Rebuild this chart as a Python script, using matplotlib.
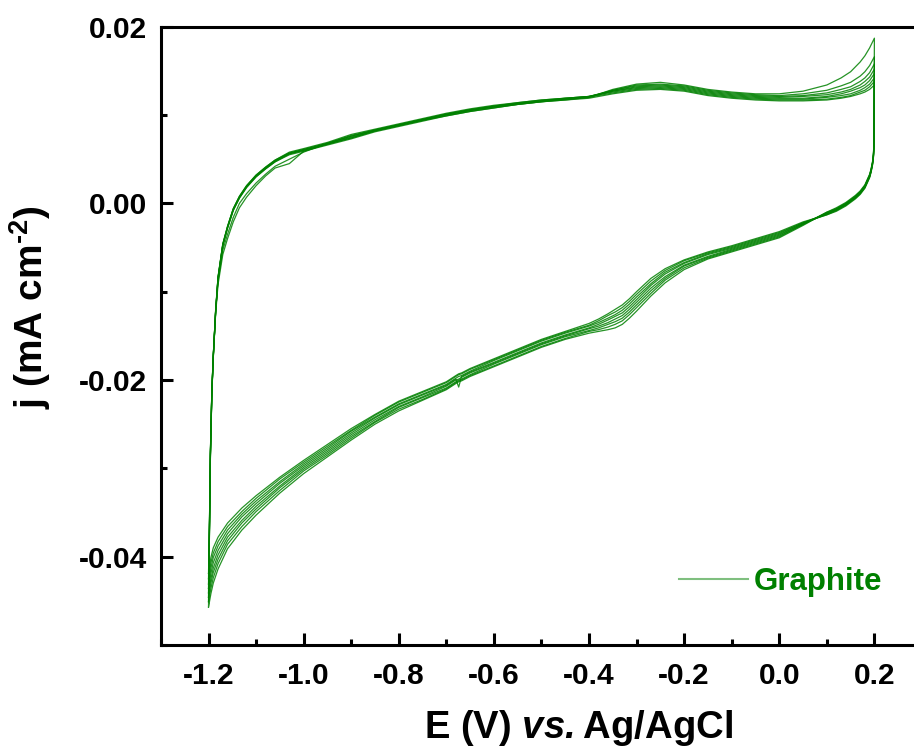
import numpy as np
import matplotlib
matplotlib.use('Agg')
import matplotlib.pyplot as plt
from matplotlib.lines import Line2D
from matplotlib.ticker import MultipleLocator, FormatStrFormatter

# potential grid of the anodic sweep (V vs. Ag/AgCl)
anodic_E = [-1.2, -1.198, -1.196, -1.193, -1.19, -1.185, -1.18, -1.17, -1.16, -1.148,
            -1.135, -1.12, -1.1, -1.08, -1.06, -1.03, -1.0, -0.95, -0.9, -0.85,
            -0.8, -0.75, -0.7, -0.65, -0.6, -0.55, -0.5, -0.45, -0.4, -0.35,
            -0.3, -0.25, -0.2, -0.15, -0.1, -0.05, 0.0, 0.05, 0.1, 0.13,
            0.15, 0.17, 0.18, 0.19, 0.2]

# current density (mA cm-2), one row per potential, one column per cycle
anodic_j = [
    [-0.0419, -0.0425, -0.0431, -0.0436, -0.0441, -0.0446, -0.0451, -0.0457],
    [-0.0360, -0.0362, -0.0364, -0.0366, -0.0368, -0.0370, -0.0372, -0.0374],
    [-0.0280, -0.0281, -0.0282, -0.0283, -0.0284, -0.0285, -0.0286, -0.0287],
    [-0.0212, -0.0213, -0.0213, -0.0214, -0.0214, -0.0215, -0.0215, -0.0216],
    [-0.0172, -0.0172, -0.0173, -0.0173, -0.0174, -0.0174, -0.0175, -0.0175],
    [-0.0125, -0.0122, -0.0120, -0.0121, -0.0122, -0.0122, -0.0123, -0.0123],
    [-0.0092, -0.0088, -0.0083, -0.0084, -0.0084, -0.0085, -0.0085, -0.0086],
    [-0.0058, -0.0053, -0.0046, -0.0046, -0.0047, -0.0047, -0.0048, -0.0048],
    [-0.0040, -0.0035, -0.0026, -0.0026, -0.0027, -0.0027, -0.0028, -0.0028],
    [-0.0021, -0.0016, -0.0006, -0.0006, -0.0007, -0.0007, -0.0008, -0.0008],
    [-0.0005, 0.0000, 0.0008, 0.0008, 0.0007, 0.0007, 0.0006, 0.0006],
    [0.0007, 0.0011, 0.0020, 0.0020, 0.0019, 0.0019, 0.0018, 0.0018],
    [0.0020, 0.0023, 0.0032, 0.0032, 0.0031, 0.0031, 0.0030, 0.0030],
    [0.0031, 0.0033, 0.0041, 0.0041, 0.0040, 0.0040, 0.0039, 0.0039],
    [0.0040, 0.0042, 0.0049, 0.0049, 0.0048, 0.0048, 0.0047, 0.0047],
    [0.0045, 0.0050, 0.0058, 0.0057, 0.0057, 0.0056, 0.0056, 0.0055],
    [0.0059, 0.0058, 0.0062, 0.0061, 0.0061, 0.0060, 0.0060, 0.0059],
    [0.0067, 0.0068, 0.0069, 0.0068, 0.0068, 0.0067, 0.0067, 0.0066],
    [0.0074, 0.0076, 0.0078, 0.0077, 0.0076, 0.0075, 0.0074, 0.0073],
    [0.0082, 0.0083, 0.0084, 0.0083, 0.0083, 0.0082, 0.0082, 0.0081],
    [0.0088, 0.0089, 0.0090, 0.0089, 0.0089, 0.0088, 0.0088, 0.0087],
    [0.0094, 0.0095, 0.0096, 0.0095, 0.0095, 0.0094, 0.0094, 0.0093],
    [0.0100, 0.0101, 0.0102, 0.0101, 0.0101, 0.0100, 0.0099, 0.0099],
    [0.0105, 0.0106, 0.0107, 0.0106, 0.0106, 0.0105, 0.0104, 0.0104],
    [0.0109, 0.0110, 0.0111, 0.0110, 0.0110, 0.0109, 0.0108, 0.0108],
    [0.0112, 0.0113, 0.0114, 0.0114, 0.0113, 0.0113, 0.0112, 0.0112],
    [0.0115, 0.0116, 0.0117, 0.0117, 0.0116, 0.0116, 0.0115, 0.0115],
    [0.0117, 0.0118, 0.0119, 0.0119, 0.0119, 0.0118, 0.0118, 0.0117],
    [0.0119, 0.0120, 0.0121, 0.0121, 0.0121, 0.0121, 0.0120, 0.0120],
    [0.0124, 0.0125, 0.0126, 0.0127, 0.0127, 0.0128, 0.0128, 0.0129],
    [0.0128, 0.0129, 0.0130, 0.0131, 0.0132, 0.0133, 0.0134, 0.0135],
    [0.0129, 0.0130, 0.0131, 0.0132, 0.0133, 0.0134, 0.0135, 0.0137],
    [0.0127, 0.0128, 0.0129, 0.0130, 0.0131, 0.0132, 0.0133, 0.0134],
    [0.0122, 0.0123, 0.0124, 0.0125, 0.0126, 0.0127, 0.0128, 0.0129],
    [0.0119, 0.0120, 0.0121, 0.0122, 0.0123, 0.0124, 0.0125, 0.0126],
    [0.0117, 0.0118, 0.0119, 0.0120, 0.0121, 0.0122, 0.0123, 0.0124],
    [0.0116, 0.0117, 0.0118, 0.0119, 0.0120, 0.0121, 0.0122, 0.0124],
    [0.0116, 0.0117, 0.0118, 0.0119, 0.0121, 0.0122, 0.0124, 0.0127],
    [0.0117, 0.0118, 0.0120, 0.0121, 0.0123, 0.0125, 0.0128, 0.0134],
    [0.0119, 0.0120, 0.0122, 0.0124, 0.0126, 0.0129, 0.0133, 0.0142],
    [0.0121, 0.0122, 0.0124, 0.0127, 0.0129, 0.0132, 0.0137, 0.0149],
    [0.0124, 0.0126, 0.0128, 0.0131, 0.0134, 0.0138, 0.0144, 0.0160],
    [0.0126, 0.0128, 0.0131, 0.0134, 0.0138, 0.0142, 0.0149, 0.0167],
    [0.0129, 0.0132, 0.0135, 0.0139, 0.0143, 0.0148, 0.0156, 0.0176],
    [0.0134, 0.0138, 0.0142, 0.0147, 0.0152, 0.0158, 0.0166, 0.0187],
]

# potential grid of the cathodic sweep back to the lower vertex
cathodic_E = [0.2, 0.1995, 0.199, 0.198, 0.196, 0.193, 0.19, 0.185, 0.18, 0.17,
              0.16, 0.15, 0.14, 0.12, 0.1, 0.05, 0.0, -0.05, -0.1, -0.15,
              -0.2, -0.24, -0.27, -0.3, -0.315, -0.33, -0.345, -0.36, -0.38, -0.4,
              -0.45, -0.5, -0.55, -0.6, -0.65, -0.668, -0.674, -0.68, -0.7, -0.75,
              -0.8, -0.85, -0.9, -0.95, -1.0, -1.05, -1.1, -1.13, -1.16, -1.18,
              -1.19, -1.195, -1.2]

cathodic_j = [
    [0.0134, 0.0138, 0.0142, 0.0147, 0.0152, 0.0158, 0.0166, 0.0187],
    [0.0090, 0.0092, 0.0094, 0.0096, 0.0098, 0.0100, 0.0103, 0.0108],
    [0.0062, 0.0063, 0.0064, 0.0065, 0.0066, 0.0067, 0.0068, 0.0070],
    [0.0052, 0.0053, 0.0053, 0.0054, 0.0054, 0.0055, 0.0055, 0.0056],
    [0.0043, 0.0044, 0.0044, 0.0045, 0.0045, 0.0046, 0.0046, 0.0047],
    [0.0035, 0.0036, 0.0036, 0.0037, 0.0037, 0.0038, 0.0038, 0.0039],
    [0.0029, 0.0030, 0.0030, 0.0031, 0.0031, 0.0032, 0.0032, 0.0033],
    [0.0023, 0.0024, 0.0024, 0.0025, 0.0025, 0.0026, 0.0026, 0.0027],
    [0.0017, 0.0018, 0.0018, 0.0019, 0.0019, 0.0020, 0.0020, 0.0021],
    [0.0010, 0.0011, 0.0011, 0.0012, 0.0012, 0.0013, 0.0013, 0.0014],
    [0.0005, 0.0006, 0.0006, 0.0007, 0.0007, 0.0008, 0.0008, 0.0009],
    [0.0001, 0.0002, 0.0002, 0.0003, 0.0003, 0.0004, 0.0004, 0.0005],
    [-0.0003, -0.0002, -0.0002, -0.0001, -0.0001, 0.0000, 0.0000, 0.0001],
    [-0.0009, -0.0008, -0.0008, -0.0007, -0.0007, -0.0006, -0.0006, -0.0005],
    [-0.0013, -0.0013, -0.0012, -0.0012, -0.0011, -0.0011, -0.0010, -0.0010],
    [-0.0021, -0.0022, -0.0022, -0.0023, -0.0023, -0.0024, -0.0024, -0.0025],
    [-0.0032, -0.0033, -0.0034, -0.0035, -0.0036, -0.0037, -0.0038, -0.0039],
    [-0.0040, -0.0041, -0.0042, -0.0043, -0.0044, -0.0045, -0.0046, -0.0047],
    [-0.0048, -0.0049, -0.0050, -0.0051, -0.0052, -0.0053, -0.0054, -0.0055],
    [-0.0055, -0.0056, -0.0057, -0.0058, -0.0060, -0.0061, -0.0062, -0.0063],
    [-0.0064, -0.0065, -0.0067, -0.0068, -0.0070, -0.0071, -0.0073, -0.0075],
    [-0.0074, -0.0076, -0.0078, -0.0080, -0.0083, -0.0085, -0.0087, -0.0090],
    [-0.0085, -0.0088, -0.0091, -0.0093, -0.0096, -0.0099, -0.0102, -0.0105],
    [-0.0100, -0.0103, -0.0106, -0.0109, -0.0112, -0.0115, -0.0118, -0.0122],
    [-0.0108, -0.0111, -0.0114, -0.0117, -0.0120, -0.0123, -0.0126, -0.0130],
    [-0.0115, -0.0118, -0.0121, -0.0124, -0.0127, -0.0130, -0.0133, -0.0137],
    [-0.0120, -0.0123, -0.0126, -0.0128, -0.0131, -0.0134, -0.0137, -0.0141],
    [-0.0125, -0.0127, -0.0130, -0.0132, -0.0135, -0.0137, -0.0140, -0.0143],
    [-0.0131, -0.0133, -0.0135, -0.0137, -0.0139, -0.0141, -0.0143, -0.0145],
    [-0.0136, -0.0138, -0.0139, -0.0141, -0.0142, -0.0144, -0.0145, -0.0147],
    [-0.0145, -0.0146, -0.0147, -0.0149, -0.0150, -0.0151, -0.0153, -0.0154],
    [-0.0154, -0.0155, -0.0156, -0.0158, -0.0159, -0.0160, -0.0162, -0.0163],
    [-0.0165, -0.0166, -0.0167, -0.0169, -0.0170, -0.0171, -0.0173, -0.0174],
    [-0.0176, -0.0177, -0.0178, -0.0180, -0.0181, -0.0182, -0.0184, -0.0185],
    [-0.0187, -0.0188, -0.0190, -0.0191, -0.0192, -0.0194, -0.0195, -0.0196],
    [-0.0192, -0.0193, -0.0195, -0.0196, -0.0197, -0.0199, -0.0200, -0.0201],
    [-0.0193, -0.0194, -0.0196, -0.0208, -0.0199, -0.0200, -0.0201, -0.0202],
    [-0.0195, -0.0196, -0.0198, -0.0199, -0.0200, -0.0202, -0.0203, -0.0204],
    [-0.0202, -0.0203, -0.0205, -0.0206, -0.0207, -0.0209, -0.0210, -0.0211],
    [-0.0213, -0.0214, -0.0216, -0.0217, -0.0219, -0.0220, -0.0222, -0.0223],
    [-0.0224, -0.0225, -0.0227, -0.0228, -0.0230, -0.0231, -0.0233, -0.0235],
    [-0.0239, -0.0240, -0.0242, -0.0243, -0.0245, -0.0247, -0.0248, -0.0250],
    [-0.0255, -0.0257, -0.0258, -0.0260, -0.0262, -0.0264, -0.0266, -0.0268],
    [-0.0273, -0.0275, -0.0277, -0.0279, -0.0281, -0.0283, -0.0285, -0.0287],
    [-0.0291, -0.0293, -0.0295, -0.0297, -0.0299, -0.0301, -0.0303, -0.0306],
    [-0.0310, -0.0312, -0.0315, -0.0317, -0.0320, -0.0322, -0.0325, -0.0328],
    [-0.0331, -0.0334, -0.0337, -0.0340, -0.0343, -0.0346, -0.0349, -0.0353],
    [-0.0345, -0.0349, -0.0352, -0.0355, -0.0359, -0.0362, -0.0366, -0.0370],
    [-0.0362, -0.0366, -0.0370, -0.0374, -0.0378, -0.0382, -0.0386, -0.0391],
    [-0.0378, -0.0383, -0.0388, -0.0393, -0.0398, -0.0403, -0.0408, -0.0414],
    [-0.0390, -0.0396, -0.0401, -0.0407, -0.0413, -0.0418, -0.0424, -0.0430],
    [-0.0401, -0.0407, -0.0413, -0.0419, -0.0425, -0.0430, -0.0436, -0.0442],
    [-0.0419, -0.0425, -0.0431, -0.0436, -0.0441, -0.0446, -0.0451, -0.0457],
]

label = 'Graphite'

plt.rcParams['font.family'] = 'Liberation Sans'
plt.rcParams['font.weight'] = 'bold'
plt.rcParams['axes.unicode_minus'] = False
plt.rcParams['mathtext.fontset'] = 'custom'
plt.rcParams['mathtext.bf'] = 'Liberation Sans:bold'
plt.rcParams['mathtext.bfit'] = 'Liberation Sans:italic:bold'

fig = plt.figure(figsize=(9.14, 7.54), dpi=100)
ax = fig.add_axes([0.1761, 0.1446, 0.8326, 0.82])

anodic = np.array(anodic_j).T
cathodic = np.array(cathodic_j).T
for up, down in zip(anodic, cathodic):
    # one closed loop per cycle: forward sweep then the way back
    E = np.concatenate([anodic_E, cathodic_E[1:]])
    j = np.concatenate([up, down[1:]])
    ax.plot(E, j, color='green', linewidth=0.9, alpha=0.85)

ax.set_xlim(-1.3, 0.3)
ax.set_ylim(-0.05, 0.02)

ax.xaxis.set_major_locator(MultipleLocator(0.2))
ax.xaxis.set_minor_locator(MultipleLocator(0.1))
ax.yaxis.set_major_locator(MultipleLocator(0.02))
ax.yaxis.set_minor_locator(MultipleLocator(0.01))
ax.xaxis.set_major_formatter(FormatStrFormatter('%.1f'))
ax.yaxis.set_major_formatter(FormatStrFormatter('%.2f'))

for side in ['left', 'bottom', 'top', 'right']:
    ax.spines[side].set_linewidth(2.2)
ax.tick_params(which='both', direction='in', width=2.2, top=False, right=False)
ax.tick_params(which='major', length=8.6, labelsize=21.5)
ax.tick_params(axis='x', which='major', pad=12)
ax.tick_params(axis='y', which='major', pad=10)
ax.tick_params(which='minor', length=4.3)

# hyphen (U+2010) keeps the exponent sign short like the tick labels
ax.set_xlabel(r'E (V) $\mathbfit{vs.}$Ag/AgCl', fontsize=27.5, fontweight='bold')
ax.set_ylabel('j (mA cm$^{\\mathbf{\u2010 2}}$)', fontsize=28, fontweight='bold')
ax.xaxis.set_label_coords(0.549, -0.102)
ax.yaxis.set_label_coords(-0.142, 0.546)

handle = Line2D([], [], color='green', alpha=0.5, linewidth=1.5)
ax.legend([handle], [label], loc='center left', bbox_to_anchor=(0.6807, 0.1024),
          frameon=False, handlelength=2.2, handletextpad=0.2, borderpad=0,
          borderaxespad=0, prop={'weight': 'bold', 'size': 22.5}, labelcolor='green')

fig.savefig('out.png', dpi=100)
